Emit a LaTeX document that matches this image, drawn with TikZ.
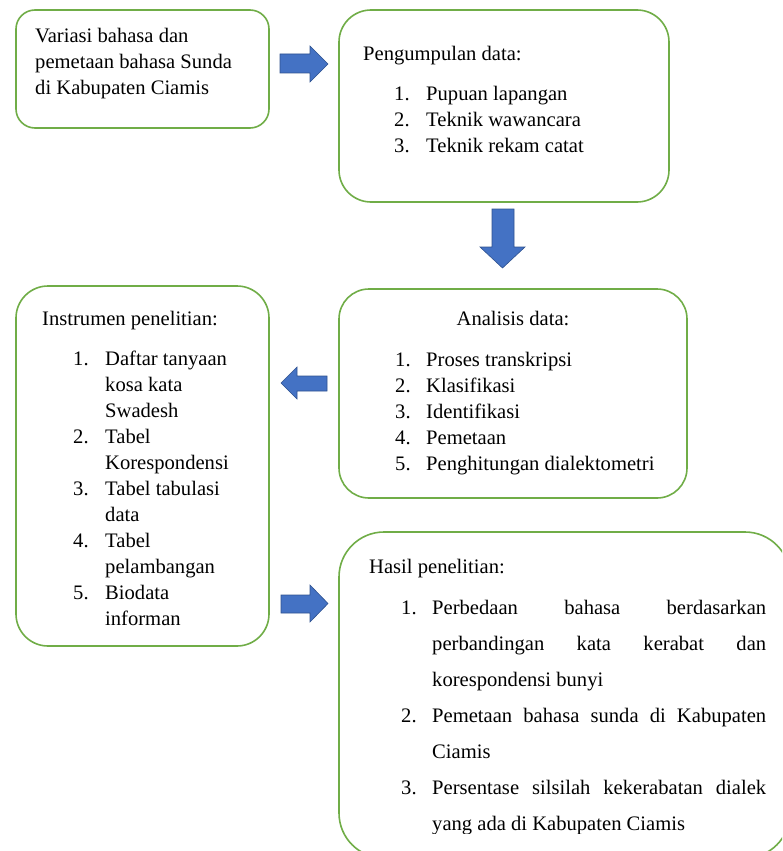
\documentclass[tikz,border=0pt]{standalone}
\usepackage{fontspec}
\setmainfont{Liberation Serif}
\definecolor{boxgreen}{HTML}{70AD47}
\definecolor{arrblue}{HTML}{4472C4}
\definecolor{arrline}{HTML}{2F528F}
\begin{document}
\begin{tikzpicture}[x=1pt,y=-1pt,
  box/.style={draw=boxgreen,line width=1.6pt,fill=white},
  blockarr/.style={fill=arrblue,draw=arrline,line width=0.6pt},
  txt/.style={anchor=base west,inner sep=0pt,font=\fontsize{20.6pt}{26pt}\selectfont}]
\useasboundingbox (0,0) rectangle (782,851);
\clip (0,0) rectangle (782,851);
% boxes
\draw[box,rounded corners=19pt] (16,10) rectangle (269,128);
\coordinate (A) at (142.5,69);
\draw[box,rounded corners=32pt] (339,10) rectangle (669,202);
\coordinate (B) at (504,106);
\draw[box,rounded corners=32pt] (16,286) rectangle (269,646);
\coordinate (C) at (142.5,466);
\draw[box,rounded corners=30pt] (339,289) rectangle (687,498);
\coordinate (D) at (513,393);
\draw[box,rounded corners=45pt] (339,532) rectangle (790,858);
\coordinate (E) at (560,695);
% block arrows
\draw[blockarr] (280,54) -- (310,54) -- (310,46) -- (328,64) -- (310,82) -- (310,73) -- (280,73) -- cycle;
\draw[blockarr] (492,209) -- (514,209) -- (514,247) -- (525,247) -- (502.5,268) -- (480,247) -- (492,247) -- cycle;
\draw[blockarr] (327,376) -- (297,376) -- (297,367) -- (281,383) -- (297,399) -- (297,391) -- (327,391) -- cycle;
\draw[blockarr] (281,595) -- (310,595) -- (310,585) -- (328,603.5) -- (310,622) -- (310,613) -- (281,613) -- cycle;
% box A text
\node[txt] (a1) at (35,43) {Variasi bahasa dan};
\node[txt] (a2) at (35,69) {pemetaan bahasa Sunda};
\node[txt] (a3) at (35,94) {di Kabupaten Ciamis};
% box B text
\node[txt] (b0) at (363,60) {Pengumpulan data:};
\node[txt] (b1n) at (394,100) {1.};
\node[txt] (b1) at (426,100) {Pupuan lapangan};
\node[txt] (b2n) at (394,126) {2.};
\node[txt] (b2) at (426,126) {Teknik wawancara};
\node[txt] (b3n) at (394,152) {3.};
\node[txt] (b3) at (426,152) {Teknik rekam catat};
% box D text
\node[txt,anchor=base] (d0) at (513,325) {Analisis data:};
\node[txt] (d1n) at (395,366) {1.};
\node[txt] (d1) at (426,366) {Proses transkripsi};
\node[txt] (d2n) at (395,392) {2.};
\node[txt] (d2) at (426,392) {Klasifikasi};
\node[txt] (d3n) at (395,418) {3.};
\node[txt] (d3) at (426,418) {Identifikasi};
\node[txt] (d4n) at (395,444) {4.};
\node[txt] (d4) at (426,444) {Pemetaan};
\node[txt] (d5n) at (395,470) {5.};
\node[txt] (d5) at (426,470) {Penghitungan dialektometri};
% box C text
\node[txt] (c0) at (42,325) {Instrumen penelitian:};
\node[txt] (c1n) at (73,365) {1.};
\node[txt] (c1a) at (105,365) {Daftar tanyaan};
\node[txt] (c1b) at (105,391) {kosa kata};
\node[txt] (c1c) at (105,417) {Swadesh};
\node[txt] (c2n) at (73,443) {2.};
\node[txt] (c2a) at (105,443) {Tabel};
\node[txt] (c2b) at (105,469) {Korespondensi};
\node[txt] (c3n) at (73,495) {3.};
\node[txt] (c3a) at (105,495) {Tabel tabulasi};
\node[txt] (c3b) at (105,521) {data};
\node[txt] (c4n) at (73,547) {4.};
\node[txt] (c4a) at (105,547) {Tabel};
\node[txt] (c4b) at (105,573) {pelambangan};
\node[txt] (c5n) at (73,599) {5.};
\node[txt] (c5a) at (105,599) {Biodata};
\node[txt] (c5b) at (105,625) {informan};
% box E text
\begin{scope}
\clip (339,532) rectangle (782,833);
\node[txt] (e0) at (369,573) {Hasil penelitian:};
\node[txt] (e1n) at (401,614) {1.};
\node[txt] (e1a) at (432,614) {\hbox to 334pt{Perbedaan\hfill bahasa\hfill berdasarkan}};
\node[txt] (e1b) at (432,650) {\hbox to 334pt{perbandingan\hfill kata\hfill kerabat\hfill dan}};
\node[txt] (e1c) at (432,686) {korespondensi bunyi};
\node[txt] (e2n) at (401,722) {2.};
\node[txt] (e2a) at (432,722) {\hbox to 334pt{Pemetaan\hfill bahasa\hfill sunda\hfill di\hfill Kabupaten}};
\node[txt] (e2b) at (432,758) {Ciamis};
\node[txt] (e3n) at (401,794) {3.};
\node[txt] (e3a) at (432,794) {\hbox to 334pt{Persentase\hfill silsilah\hfill kekerabatan\hfill dialek}};
\node[txt] (e3b) at (432,830) {yang ada di Kabupaten Ciamis};
\end{scope}
\end{tikzpicture}
\end{document}
